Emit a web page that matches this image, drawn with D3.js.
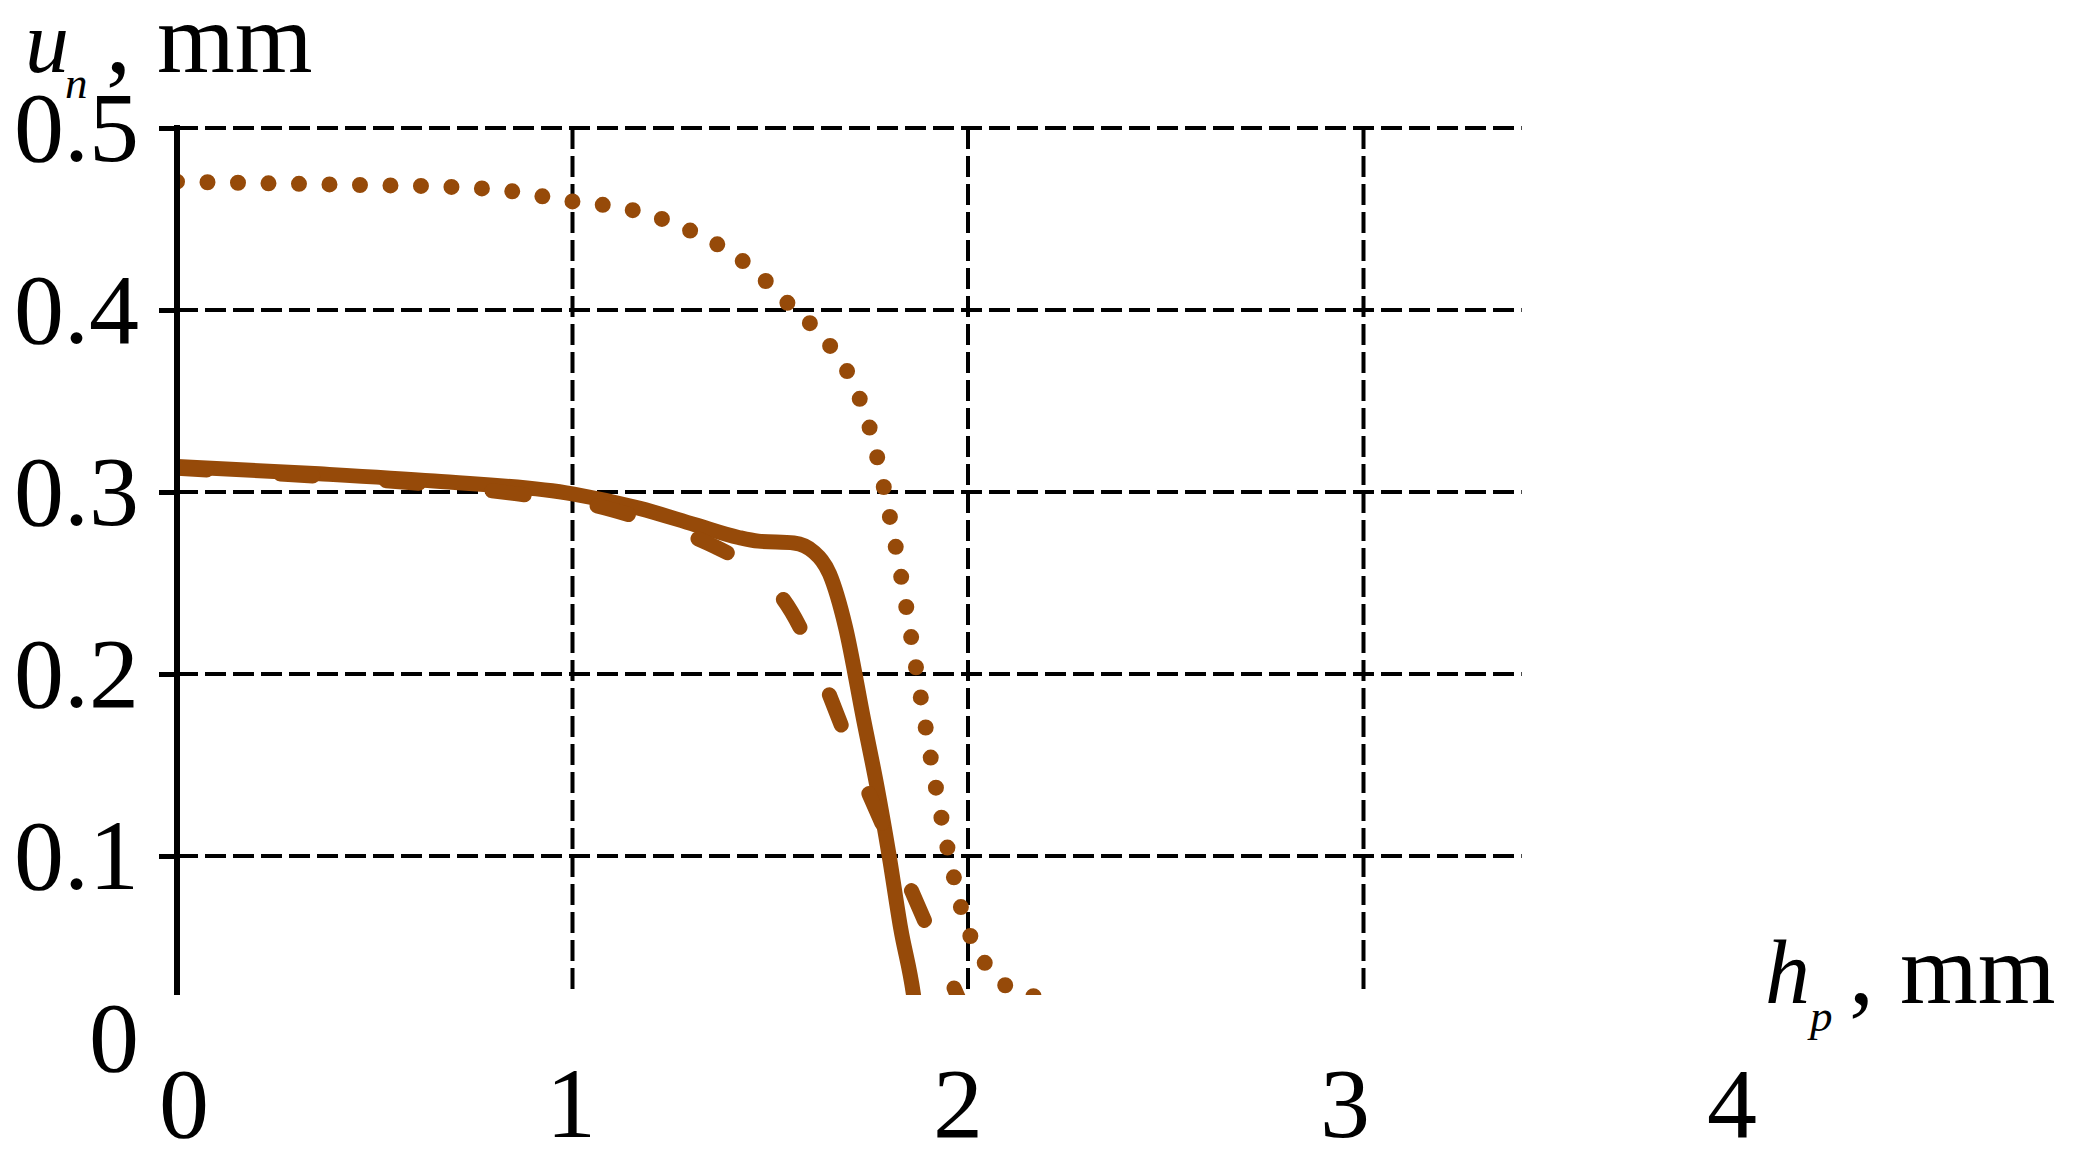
<!DOCTYPE html>
<html>
<head>
<meta charset="utf-8">
<script src="https://cdn.jsdelivr.net/npm/d3@7"></script>
<style>
  html, body { margin: 0; padding: 0; background: #fff; }
  svg { display: block; font-family: "Liberation Serif", "Times New Roman", serif; }
</style>
</head>
<body>
<svg id="chart" width="2080" height="1160"></svg>
<script>
// ---- data ----
var xTicks = [0, 1, 2, 3, 4];
var yTicks = [0.1, 0.2, 0.3, 0.4, 0.5];
var yLabels = [0, 0.1, 0.2, 0.3, 0.4, 0.5];

// solid curve
var solidX = [0, 0.36, 0.65, 1.0, 1.17, 1.31, 1.42, 1.47, 1.56, 1.61, 1.65, 1.69, 1.736, 1.77, 1.80, 1.83, 1.862, 1.876];
var solidY = [0.314, 0.310, 0.306, 0.299, 0.291, 0.282, 0.275, 0.273, 0.272, 0.267, 0.255, 0.226, 0.175, 0.138, 0.101, 0.060, 0.024, 0.0];

// dashed curve
var dashX = [0, 0.4, 0.65, 0.86, 1.05, 1.18, 1.31, 1.42, 1.48, 1.533, 1.75, 2.02];
var dashY = [0.313, 0.308, 0.304, 0.299, 0.293, 0.285, 0.275, 0.263, 0.254, 0.241, 0.134, 0.0];

// dotted curve
var dotX = [0, 0.458, 0.686, 0.837, 0.989, 1.14, 1.212, 1.282, 1.352, 1.417, 1.476, 1.53, 1.589, 1.641, 1.686,
            1.72, 1.747, 1.767, 1.80, 1.829, 1.855, 1.88, 1.905, 1.932, 1.964, 1.982, 2.006, 2.042, 2.094, 2.158, 2.22];
var dotY = [0.4705, 0.4687, 0.4677, 0.4655, 0.4600, 0.4555, 0.4511, 0.4451, 0.4378, 0.4290, 0.4186, 0.4066, 0.3952, 0.3830, 0.3697,
            0.3545, 0.3385, 0.3222, 0.289, 0.256, 0.222, 0.188, 0.155, 0.122, 0.0886, 0.072, 0.056, 0.0414, 0.029, 0.0236, 0.018];

var dashStartAt = 1.533;   // x where one of the dashes begins in the original

// ---- layout ----
var brown = "#964a09";
var svg = d3.select("#chart");

var x = d3.scaleLinear().domain([0, 4]).range([177, 1759]);
var y = d3.scaleLinear().domain([0, 0.5]).range([1038, 128]);
// tick labels in the original drift a bit from the grid
var xLab = d3.scaleLinear().domain([0, 4]).range([184, 1732]);

var plotLeft = x(0), plotRight = x(3.4), plotTop = y(0.5), plotBottom = 995;

svg.append("clipPath").attr("id", "plot-clip")
    .append("rect")
    .attr("x", plotLeft).attr("y", plotTop - 20)
    .attr("width", plotRight - plotLeft).attr("height", plotBottom - plotTop + 20);

// grid
var grid = svg.append("g").attr("class", "grid");
grid.selectAll("line.h")
    .data(yTicks)
    .enter().append("line")
    .classed("h", true)
    .attr("x1", plotLeft).attr("x2", plotRight)
    .attr("y1", function(d){ return y(d); })
    .attr("y2", function(d){ return y(d); })
    .attr("stroke", "#000").attr("stroke-width", 4)
    .attr("stroke-dasharray", "21,7");

grid.selectAll("line.v")
    .data([1, 2, 3])
    .enter().append("line")
    .classed("v", true)
    .attr("x1", function(d){ return x(d); })
    .attr("x2", function(d){ return x(d); })
    .attr("y1", plotTop).attr("y2", plotBottom)
    .attr("stroke", "#000").attr("stroke-width", 4)
    .attr("stroke-dasharray", "21,7");

// curves
function toPoints(xs, ys) {
    return xs.map(function(v, i){ return [v, ys[i]]; });
}
var line = d3.line()
    .x(function(d){ return x(d[0]); })
    .y(function(d){ return y(d[1]); })
    .curve(d3.curveMonotoneX);

var curves = svg.append("g").attr("clip-path", "url(#plot-clip)");

curves.append("path")
    .attr("d", line(toPoints(solidX, solidY)))
    .attr("fill", "none").attr("stroke", brown).attr("stroke-width", 15);

var dashPath = curves.append("path")
    .attr("d", line(toPoints(dashX, dashY)))
    .attr("fill", "none").attr("stroke", brown).attr("stroke-width", 15)
    .attr("stroke-linecap", "round")
    .attr("stroke-dasharray", "32.5,73.7");

// line the dash phase up with the original
(function(){
    var node = dashPath.node();
    var total = node.getTotalLength();
    var target = x(dashStartAt), best = 0, bestDist = Infinity;
    for (var s = 0; s <= total; s += 0.5) {
        var p = node.getPointAtLength(s);
        var dd = Math.abs(p.x - target);
        if (dd < bestDist) { bestDist = dd; best = s; }
    }
    var period = 32.5 + 73.7;
    dashPath.attr("stroke-dashoffset", (period - (best % period)) % period);
})();

curves.append("path")
    .attr("d", line(toPoints(dotX, dotY)))
    .attr("fill", "none").attr("stroke", brown).attr("stroke-width", 16)
    .attr("stroke-linecap", "round")
    .attr("stroke-dasharray", "0,30.5");

// y axis
var yAxis = d3.axisLeft(y)
    .tickValues(yTicks)
    .tickSize(18)
    .tickFormat("");
var gy = svg.append("g")
    .attr("transform", "translate(" + plotLeft + ",0)")
    .call(yAxis);
gy.select(".domain").remove();
gy.selectAll(".tick line").attr("stroke", "#000").attr("stroke-width", 5);

svg.append("line")
    .attr("x1", plotLeft).attr("x2", plotLeft)
    .attr("y1", plotTop - 3).attr("y2", plotBottom)
    .attr("stroke", "#000").attr("stroke-width", 6);

svg.append("g").selectAll("text")
    .data(yLabels)
    .enter().append("text")
    .attr("x", 139)
    .attr("y", function(d){ return y(d); })
    .attr("dy", "0.33em")
    .attr("text-anchor", "end")
    .attr("font-size", 100)
    .text(function(d){ return d === 0 ? "0" : d3.format(".1f")(d); });

// x tick labels
svg.append("g").selectAll("text")
    .data(xTicks)
    .enter().append("text")
    .attr("x", function(d){ return xLab(d); })
    .attr("y", 1137)
    .attr("text-anchor", "middle")
    .attr("font-size", 100)
    .text(function(d){ return d; });

// axis titles
var yt = svg.append("text").attr("y", 72).attr("font-size", 100);
yt.append("tspan").attr("x", 25).attr("font-style", "italic").attr("font-size", 88).text("u");
yt.append("tspan").attr("x", 65).attr("dy", 26).attr("font-style", "italic").attr("font-size", 45).text("n");
yt.append("tspan").attr("x", 106).attr("dy", -26).text(",");
yt.append("tspan").attr("x", 157).text("mm");

var xt = svg.append("text").attr("y", 1003).attr("font-size", 100);
xt.append("tspan").attr("x", 1765).attr("font-style", "italic").attr("font-size", 90).text("h");
xt.append("tspan").attr("x", 1810).attr("dy", 28).attr("font-style", "italic").attr("font-size", 45).text("p");
xt.append("tspan").attr("x", 1849).attr("dy", -28).text(",");
xt.append("tspan").attr("x", 1900).text("mm");
</script>
</body>
</html>
